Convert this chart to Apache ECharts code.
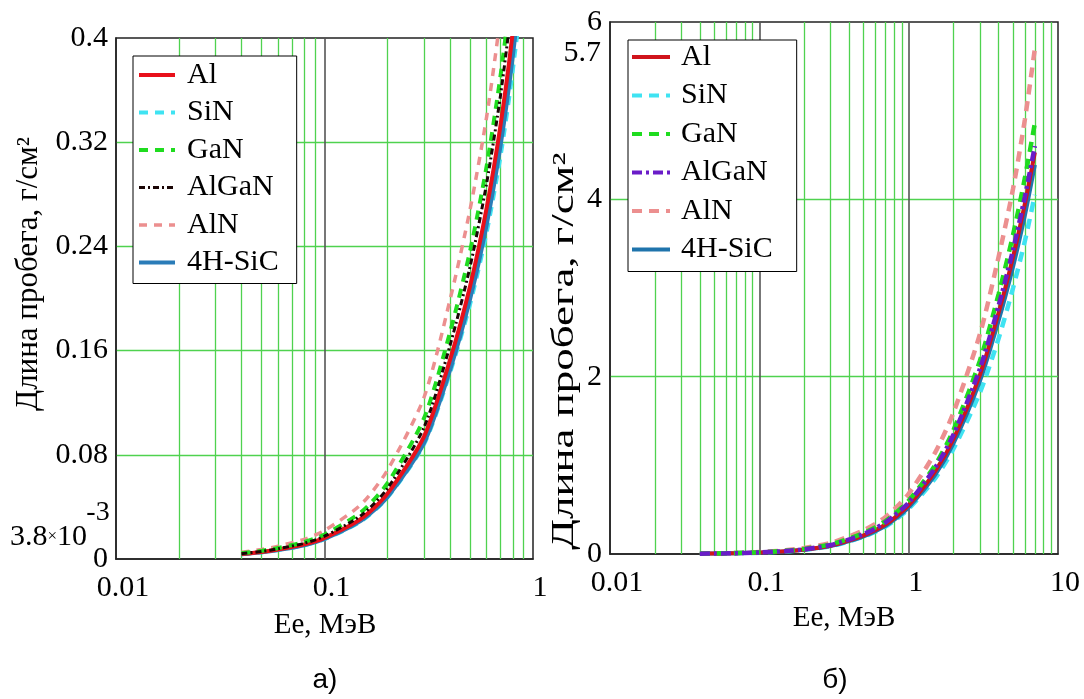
<!DOCTYPE html>
<html>
<head>
<meta charset="utf-8">
<title>Длина пробега электронов</title>
<script src="https://cdn.jsdelivr.net/npm/echarts@6.0.0/dist/echarts.min.js"></script>
<style>
  html, body { margin: 0; background: #fff; }
  #chart { width: 1084px; height: 699px; }
</style>
</head>
<body>
<div id="chart"></div>
<script>
// energies, MeV
const energy = [0.04, 0.05, 0.06, 0.08, 0.1, 0.15, 0.2, 0.3, 0.4, 0.5, 0.6, 0.7, 0.8, 1, 1.5, 2, 3, 4, 5, 6, 7];

// electron range, g/cm2
const rangeAl    = [0.0038, 0.0054, 0.0073, 0.0112, 0.0162, 0.031, 0.050, 0.094, 0.153, 0.21, 0.27, 0.334, 0.405, 0.55, 0.93, 1.30, 2.02, 2.72, 3.35, 3.95, 4.53];
const rangeSiN   = [0.0036, 0.0051, 0.0069, 0.0105, 0.0152, 0.029, 0.047, 0.088, 0.143, 0.196, 0.251, 0.31, 0.375, 0.51, 0.85, 1.19, 1.82, 2.43, 3.00, 3.53, 4.05];
const rangeGaN   = [0.0044, 0.0063, 0.0085, 0.0130, 0.0188, 0.036, 0.058, 0.108, 0.174, 0.237, 0.302, 0.372, 0.448, 0.60, 1.00, 1.40, 2.18, 2.93, 3.60, 4.24, 4.86];
const rangeAlGaN = [0.0041, 0.0058, 0.0079, 0.0121, 0.0175, 0.0335, 0.054, 0.101, 0.164, 0.225, 0.289, 0.357, 0.432, 0.58, 0.97, 1.35, 2.09, 2.80, 3.43, 4.03, 4.60];
const rangeAlN   = [0.0051, 0.0073, 0.0099, 0.0151, 0.0219, 0.042, 0.068, 0.124, 0.199, 0.269, 0.340, 0.418, 0.502, 0.68, 1.14, 1.60, 2.48, 3.35, 4.12, 4.90, 5.70];
const range4HSiC = [0.0036, 0.0051, 0.0069, 0.0106, 0.0154, 0.0295, 0.0475, 0.089, 0.145, 0.200, 0.257, 0.318, 0.386, 0.525, 0.89, 1.25, 1.95, 2.63, 3.24, 3.82, 4.39];

const materials = ['Al', 'SiN', 'GaN', 'AlGaN', 'AlN', '4H-SiC'];
const ranges = [rangeAl, rangeSiN, rangeGaN, rangeAlGaN, rangeAlN, range4HSiC];

// grid lines of the log axes
const minorLeft  = [0.02, 0.03, 0.04, 0.05, 0.06, 0.07, 0.08, 0.09, 0.2, 0.3, 0.4, 0.5, 0.6, 0.7, 0.8, 0.9];
const majorLeft  = [0.1];
const minorRight = [0.02, 0.03, 0.04, 0.05, 0.06, 0.07, 0.08, 0.09, 0.2, 0.3, 0.4, 0.5, 0.6, 0.7, 0.8, 0.9, 2, 3, 4, 5, 6, 7, 8, 9];
const majorRight = [0.1, 1];

const GREEN = '#4fd24f';
const SERIF = 'Liberation Serif';

// which curve is drawn on top
const zOrder = [5, 2, 6, 7, 4, 3];

const leftStyles = [
  { color: '#e8101a', width: 4, dash: 'solid' },
  { color: '#3fe3f2', width: 4, dash: [9, 7] },
  { color: '#1fdc1f', width: 4, dash: [9, 7] },
  { color: '#1a0505', width: 3, dash: [6, 3, 2, 3] },
  { color: '#ec8f8f', width: 3.5, dash: [8, 7] },
  { color: '#2a7cb8', width: 4, dash: 'solid' }
];
const rightStyles = [
  { color: '#d0141c', width: 4, dash: 'solid' },
  { color: '#3fe3f2', width: 4.5, dash: [10, 7] },
  { color: '#1fdc1f', width: 4.5, dash: [10, 7] },
  { color: '#6a1cc8', width: 4.5, dash: [10, 4, 3, 4] },
  { color: '#ec8f8f', width: 4.5, dash: [10, 7] },
  { color: '#1f74ac', width: 4, dash: 'solid' }
];

function curve(key, idx, styles, i) {
  const st = styles[i];
  return {
    name: key + ':' + materials[i],
    type: 'line',
    xAxisIndex: idx,
    yAxisIndex: idx,
    data: energy.map((e, k) => [e, ranges[i][k]]),
    symbol: 'none',
    showSymbol: false,
    smooth: 0.25,
    z: zOrder[i],
    lineStyle: { color: st.color, width: st.width, type: st.dash },
    itemStyle: { color: st.color },
    emphasis: { disabled: true }
  };
}

function gridLines(idx, minor, major) {
  const lines = minor.map(v => ({ xAxis: v, lineStyle: { color: GREEN, width: 1.3, type: 'solid' } }))
    .concat(major.map(v => ({ xAxis: v, lineStyle: { color: '#555', width: 1.6, type: 'solid' } })));
  return {
    type: 'line', xAxisIndex: idx, yAxisIndex: idx, data: [], silent: true, z: 1,
    markLine: { silent: true, symbol: 'none', animation: false, z: 1, label: { show: false }, data: lines }
  };
}

function xAxis(idx, max) {
  return {
    type: 'log', logBase: 10, gridIndex: idx, min: 0.01, max: max,
    axisLine: { lineStyle: { color: '#222', width: 1.5 } },
    axisTick: { show: false },
    splitLine: { show: false },
    axisLabel: { color: '#000', fontFamily: SERIF, fontSize: 30, margin: 14, padding: [0, 0, 0, 14] }
  };
}

function yAxis(idx, max, step) {
  return {
    type: 'value', gridIndex: idx, min: 0, max: max, interval: step,
    axisLine: { show: true, lineStyle: { color: '#222', width: 1.5 } },
    axisTick: { show: false },
    splitLine: { show: true, showMinLine: false, showMaxLine: false, lineStyle: { color: GREEN, width: 1.3 } },
    axisLabel: { color: '#000', fontFamily: SERIF, fontSize: 30, margin: 8, padding: [10, 0, 0, 0] }
  };
}

function legend(key, styles, pos) {
  return {
    data: materials.map((m, i) => ({
      name: key + ':' + m,
      lineStyle: { width: Math.min(styles[i].width, 4) }
    })),
    orient: 'vertical',
    left: pos.left, top: pos.top,
    itemWidth: pos.iw, itemHeight: 14, itemGap: pos.gap,
    padding: pos.pad,
    borderColor: '#000', borderWidth: 1, backgroundColor: '#fff',
    selectedMode: false,
    itemStyle: { opacity: 0 },
    formatter: n => n.split(':')[1],
    textStyle: { color: '#000', fontFamily: SERIF, fontSize: 30, lineHeight: 32, padding: [0, 0, 0, pos.tp] }
  };
}

const series = [gridLines(0, minorLeft, majorLeft), gridLines(1, minorRight, majorRight)];
materials.forEach((m, i) => series.push(curve('a', 0, leftStyles, i)));
materials.forEach((m, i) => series.push(curve('b', 1, rightStyles, i)));

const txt = (text, x, y, size, extra) => Object.assign({
  type: 'text', x: x, y: y, silent: true,
  style: { text: text, fontFamily: SERIF, fontSize: size, fill: '#000', align: 'center', verticalAlign: 'middle' }
}, extra || {});

const option = {
  animation: false,
  backgroundColor: '#fff',
  grid: [
    { left: 116, top: 38, width: 417, height: 521, show: true, borderColor: '#222', borderWidth: 1.5, backgroundColor: 'transparent' },
    { left: 610, top: 22, width: 448, height: 532, show: true, borderColor: '#222', borderWidth: 1.5, backgroundColor: 'transparent' }
  ],
  xAxis: [xAxis(0, 1), xAxis(1, 10)],
  yAxis: [yAxis(0, 0.4, 0.08), yAxis(1, 6, 2)],
  legend: [
    legend('a', leftStyles, { left: 133, top: 56, iw: 36, gap: 5.5, pad: [3, 18, 5, 4], tp: 7 }),
    legend('b', rightStyles, { left: 628, top: 40, iw: 38, gap: 6.5, pad: [1, 24, 6, 2], tp: 6 })
  ],
  series: series,
  graphic: [
    // min / max markers on the y axes
    { type: 'text', x: 10, y: 537, silent: true,
      style: { text: '{n|3.8}{m|×}{n|10}', verticalAlign: 'middle', align: 'left',
        rich: { n: { fontFamily: SERIF, fontSize: 30, fill: '#000' }, m: { fontFamily: SERIF, fontSize: 17, fill: '#000' } } } },
    txt('-3', 98, 513, 28),
    txt('5.7', 601, 53, 30, {}),
    // axis titles
    txt('Ee, МэВ', 325, 625, 29),
    txt('Ee, МэВ', 844, 618, 29),
    txt('Длина пробега, г/см²', 29, 274, 31, { rotation: Math.PI / 2 }),
    txt('Длина пробега, г/см²', 565, 351, 31, { rotation: Math.PI / 2, scaleX: 1.45 }),
    // captions
    { type: 'text', x: 325, y: 680, silent: true,
      style: { text: 'а)', fontFamily: 'Liberation Sans', fontSize: 28, fill: '#000', align: 'center', verticalAlign: 'middle' } },
    { type: 'text', x: 835, y: 680, silent: true,
      style: { text: 'б)', fontFamily: 'Liberation Sans', fontSize: 28, fill: '#000', align: 'center', verticalAlign: 'middle' } }
  ]
};
option.graphic[2].style.align = 'right';

const chart = echarts.init(document.getElementById('chart'));
chart.setOption(option);
</script>
</body>
</html>
